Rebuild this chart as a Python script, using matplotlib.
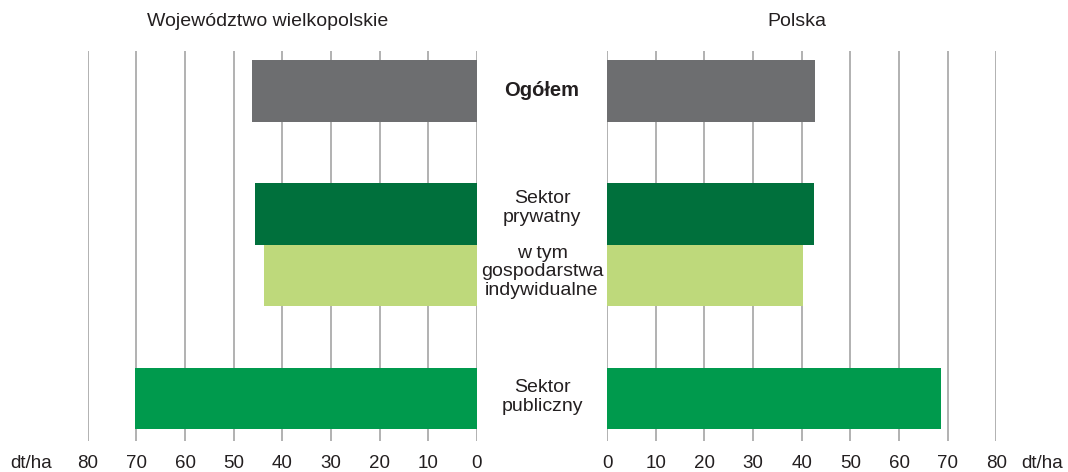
import matplotlib.pyplot as plt

plt.rcParams['font.family'] = ['Liberation Sans', 'DejaVu Sans']

categories = ['Ogółem', 'Sektor\nprywatny', 'w tym\ngospodarstwa\nindywidualne', 'Sektor\npubliczny']
row_pos = [0, 2, 3, 5]
wielkopolskie = [46.3, 45.6, 43.7, 70.2]
polska = [42.8, 42.5, 40.3, 68.7]
bar_colors = ['#6d6e70', '#00703c', '#bed97b', '#009a4d']
ticks = [0, 10, 20, 30, 40, 50, 60, 70, 80]

fig = plt.figure(figsize=(10.68, 4.72), dpi=100)
ax_l = fig.add_axes([0.0821, 0.0657, 0.3645, 0.826])
ax_r = fig.add_axes([0.5684, 0.0657, 0.3645, 0.826])

for ax, values in [(ax_l, wielkopolskie), (ax_r, polska)]:
    ax.barh(row_pos, values, height=1.0, color=bar_colors, zorder=2)
    ax.set_ylim(5.69, -0.65)
    ax.set_xticks(ticks)
    ax.set_yticks([])
    ax.grid(axis='x', color='#9d9d9d', linewidth=1.1, zorder=0)
    ax.set_axisbelow(True)
    for s in ax.spines.values():
        s.set_visible(False)
    ax.tick_params(axis='x', length=0, pad=10, labelsize=13.5, labelcolor='#231f20')

ax_l.set_xlim(80, 0)
ax_r.set_xlim(0, 80)

fig.text(268 / 1068, 1 - 22 / 472, 'Województwo wielkopolskie', ha='center', va='center',
         fontsize=14, color='#231f20')
fig.text(797 / 1068, 1 - 22 / 472, 'Polska', ha='center', va='center',
         fontsize=14, color='#231f20')
fig.text(31 / 1068, 1 - 463 / 472, 'dt/ha', ha='center', va='center', fontsize=13.5, color='#231f20')
fig.text(1042 / 1068, 1 - 463 / 472, 'dt/ha', ha='center', va='center', fontsize=13.5, color='#231f20')

# row labels between the panels
label_y = [91, 208, 272, 397]
for i, (lab, y) in enumerate(zip(categories, label_y)):
    fig.text(542 / 1068, 1 - y / 472, lab, ha='center', va='center',
             fontsize=14.5 if i == 0 else 14, color='#231f20',
             fontweight='bold' if i == 0 else 'normal', linespacing=1.12)

fig.savefig('out.png', dpi=100)
